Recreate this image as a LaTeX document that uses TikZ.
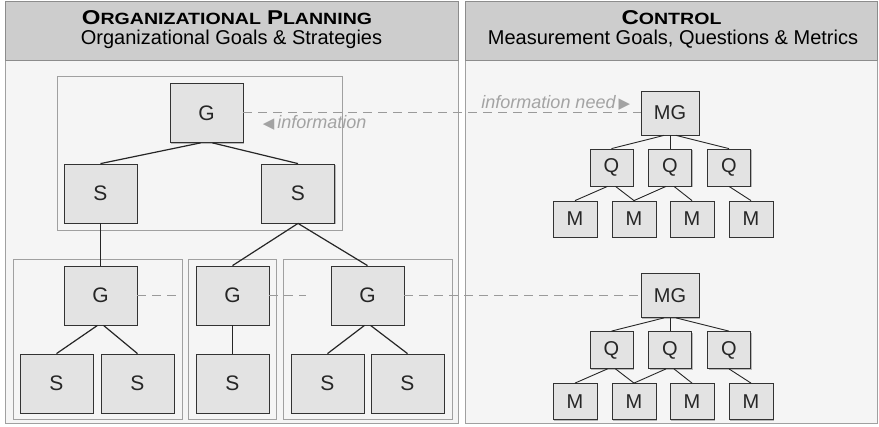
\documentclass[tikz,border=0pt]{standalone}
\usepackage{fontspec}
\setmainfont{Liberation Sans}
\newfontfamily\symfont{DejaVu Sans}
\usetikzlibrary{positioning, shadows}

\definecolor{panelfill}{HTML}{F5F5F5}
\definecolor{headfill}{HTML}{CDCDCD}
\definecolor{panelline}{HTML}{A0A0A0}
\definecolor{headline}{HTML}{8C8C8C}
\definecolor{boxfill}{HTML}{E3E3E3}
\definecolor{dashgray}{HTML}{9A9A9A}
\definecolor{labelgray}{HTML}{A3A3A3}

% fake small caps: big first letter, smaller rest
\newcommand{\smcap}[2]{{\fontsize{20}{24}\selectfont #1}{\fontsize{16.3}{20}\selectfont #2}}

\begin{document}
\begin{tikzpicture}[x=1pt, y=-1pt,
    boxbase/.style={draw=black!80, fill=boxfill, line width=0.8pt, inner sep=0pt, text=black!85,
        drop shadow={shadow xshift=1.2pt, shadow yshift=-1.2pt, fill=black, opacity=0.25}},
    bigbox/.style={boxbase, minimum width=73pt, minimum height=59pt, font=\fontsize{21}{24}\selectfont},
    mgbox/.style={boxbase, minimum width=58pt, minimum height=44pt, font=\fontsize{20}{24}\selectfont},
    qbox/.style={boxbase, minimum width=43pt, minimum height=37pt, font=\fontsize{20}{24}\selectfont},
    mbox/.style={boxbase, minimum width=44pt, minimum height=36pt, font=\fontsize{20}{24}\selectfont},
    groupbox/.style={draw=panelline, line width=0.8pt},
    link/.style={draw=black!85, line width=1.2pt},
    infolink/.style={draw=dashgray, line width=1pt, dash pattern=on 9pt off 6pt},
    infolabel/.style={text=labelgray, font=\fontsize{18}{20}\selectfont\itshape, inner sep=1pt}]
    \useasboundingbox (0,0) rectangle (879,427);

    % Panels
    \draw[panelline, fill=panelfill, line width=1pt] (5,2) rectangle (458,424);
    \draw[headline, fill=headfill, line width=1pt] (5,2) rectangle (458,61);
    \draw[panelline, fill=panelfill, line width=1pt] (465,2) rectangle (877,424);
    \draw[headline, fill=headfill, line width=1pt] (465,2) rectangle (877,61);

    \node[anchor=base] (planTitle) at (227,25)
        {\scalebox{1.2}[1]{\bfseries\smcap{O}{RGANIZATIONAL}\hspace{5pt}\smcap{P}{LANNING}}};
    \node[anchor=base, font=\fontsize{20}{24}\selectfont] (planSub) at (231.5,45)
        {Organizational Goals \& Strategies};
    \node[anchor=base] (ctrlTitle) at (671.5,25)
        {\scalebox{1.2}[1]{\bfseries\smcap{C}{ONTROL}}};
    \node[anchor=base, font=\fontsize{20}{24}\selectfont] (ctrlSub) at (673,45)
        {Measurement Goals, Questions \& Metrics};

    % Group boxes
    \draw[groupbox] (57,76) rectangle (342,230);
    \draw[groupbox] (13,259) rectangle (182,419);
    \draw[groupbox] (188,259) rectangle (276,419);
    \draw[groupbox] (283,259) rectangle (452,419);

    % Goals and strategies
    \node[bigbox] (gTop) at (206.5,113) {G};
    \node[bigbox] (sL) at (100.5,193.5) {S};
    \node[bigbox] (sR) at (298,193.5) {S};

    \node[bigbox] (gA) at (100.5,295.5) {G};
    \node[bigbox] (gB) at (232.5,295.5) {G};
    \node[bigbox] (gC) at (367.5,295.5) {G};

    \node[bigbox] (sA1) at (56.5,383.5) {S};
    \node[bigbox] (sA2) at (137.5,383.5) {S};
    \node[bigbox] (sB1) at (232.5,383.5) {S};
    \node[bigbox] (sC1) at (327.5,383.5) {S};
    \node[bigbox] (sC2) at (407.5,383.5) {S};

    \draw[link] ([xshift=-6pt]gTop.south) -- (sL.north);
    \draw[link] ([xshift=6pt]gTop.south) -- (sR.north);
    \draw[link] (sL.south) -- (gA.north);
    \draw[link] (sR.south) -- (gB.north);
    \draw[link] (sR.south) -- (gC.north);
    \draw[link] ([xshift=-3pt]gA.south) -- (sA1.north);
    \draw[link] ([xshift=3pt]gA.south) -- (sA2.north);
    \draw[link] (gB.south) -- (sB1.north);
    \draw[link] ([xshift=-3pt]gC.south) -- (sC1.north);
    \draw[link] ([xshift=3pt]gC.south) -- (sC2.north);

    % Measurement goals, questions, metrics
    \foreach \grp/\dy in {T/0, B/182.5} {
        \node[mgbox] (mg\grp) at (670,113+\dy) {MG};
        \node[qbox] (q\grp1) at (611.5,167.5+\dy) {Q};
        \node[qbox] (q\grp2) at (670,167.5+\dy) {Q};
        \node[qbox] (q\grp3) at (729,167.5+\dy) {Q};
        \node[mbox] (m\grp1) at (575,219+\dy) {M};
        \node[mbox] (m\grp2) at (634,219+\dy) {M};
        \node[mbox] (m\grp3) at (692,219+\dy) {M};
        \node[mbox] (m\grp4) at (751,219+\dy) {M};

        \draw[link, line width=0.9pt] ([xshift=-6pt]mg\grp.south) -- (q\grp1.north);
        \draw[link, line width=0.9pt] (mg\grp.south) -- (q\grp2.north);
        \draw[link, line width=0.9pt] ([xshift=6pt]mg\grp.south) -- (q\grp3.north);
        \draw[link, line width=0.9pt] ([xshift=-4pt]q\grp1.south) -- (m\grp1.north);
        \draw[link, line width=0.9pt] ([xshift=4pt]q\grp1.south) -- (m\grp2.north);
        \draw[link, line width=0.9pt] ([xshift=-4pt]q\grp2.south) -- (m\grp2.north);
        \draw[link, line width=0.9pt] ([xshift=4pt]q\grp2.south) -- (m\grp3.north);
        \draw[link, line width=0.9pt] (q\grp3.south) -- (m\grp4.north);
    }

    % Information flow
    \draw[infolink] (gTop.east) -- (mgT.west)
        node[infolabel, pos=1, anchor=south east, xshift=-9pt, yshift=1pt]
            {information need\,{\symfont\upshape\fontsize{15}{15}\selectfont ▶}}
        node[infolabel, pos=0, anchor=north west, xshift=18pt, yshift=-1pt]
            {{\symfont\upshape\fontsize{15}{15}\selectfont ◀}\,information};

    \coordinate (endA) at (176,295.5);
    \coordinate (endB) at (306,295.5);
    \draw[infolink] (gA.east) -- (endA);
    \draw[infolink] (gB.east) -- (endB);
    \draw[infolink] (gC.east) -- (mgB.west);
\end{tikzpicture}
\end{document}
